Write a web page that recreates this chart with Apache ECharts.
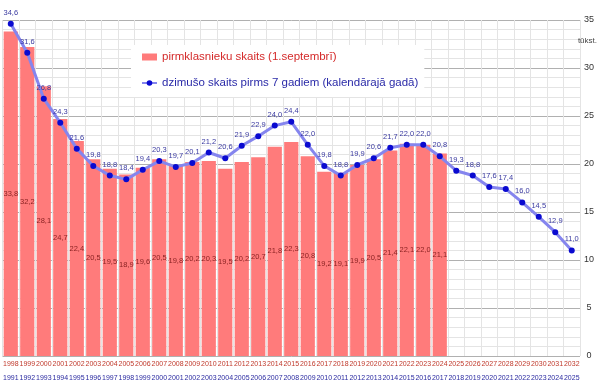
<!DOCTYPE html>
<html><head><meta charset="utf-8">
<script src="https://cdn.jsdelivr.net/npm/echarts@6/dist/echarts.min.js"></script>
<style>html,body{margin:0;padding:0;background:#fff}#c{width:600px;height:387px}</style>
</head><body><div id="c"></div>
<script>
const schoolYears = ['1998','1999','2000','2001','2002','2003','2004','2005','2006','2007','2008','2009','2010','2011','2012','2013','2014','2015','2016','2017','2018','2019','2020','2021','2022','2023','2024','2025','2026','2027','2028','2029','2030','2031','2032'];
const birthYears = ['1991','1992','1993','1994','1995','1996','1997','1998','1999','2000','2001','2002','2003','2004','2005','2006','2007','2008','2009','2010','2011','2012','2013','2014','2015','2016','2017','2018','2019','2020','2021','2022','2023','2024','2025'];
const firstGraders = [33.8,32.2,28.1,24.7,22.4,20.5,19.5,18.9,19.6,20.5,19.8,20.2,20.3,19.5,20.2,20.7,21.8,22.3,20.8,19.2,19.1,19.9,20.5,21.4,22.1,22.0,21.1];
const births = [34.6,31.6,26.8,24.3,21.6,19.8,18.8,18.4,19.4,20.3,19.7,20.1,21.2,20.6,21.9,22.9,24.0,24.4,22.0,19.8,18.8,19.9,20.6,21.7,22.0,22.0,20.8,19.3,18.8,17.6,17.4,16.0,14.5,12.9,11.0];
const yTicks = [0,5,10,15,20,25,30,35];
const name1 = 'pirmklasnieku skaits (1.septembrī)';
const name2 = 'dzimušo skaits pirms 7 gadiem (kalendārajā gadā)';

const fmt = v => v.toFixed(1).replace('.', ',');
const chart = echarts.init(document.getElementById('c'), null, {renderer:'canvas'});
chart.setOption({
  animation:false,
  textStyle:{fontFamily:'Liberation Sans, Arial, sans-serif'},
  grid:{left:2,right:20,top:20,bottom:31},
  title:{text:'tūkst.',right:3,top:37,padding:0,textStyle:{fontSize:8,fontWeight:'normal',color:'#444'}},
  legend:{
    orient:'vertical',left:131,top:45,backgroundColor:'#fff',
    padding:[6,6,8,10],itemGap:14,itemWidth:15,itemHeight:7,
    textStyle:{fontSize:11.5},
    data:[
      {name:name1,icon:'rect',textStyle:{color:'#d42a2a'}},
      {name:name2,textStyle:{color:'#2a2aa8'}}
    ]
  },
  xAxis:{
    type:'category',data:schoolYears,boundaryGap:true,
    axisLine:{show:false},axisTick:{show:false},
    splitLine:{show:true,interval:0,lineStyle:{color:'#e4e4e4',width:1}},
    axisLabel:{
      interval:0,margin:1,
      formatter:(v,i)=>'{a|'+v+'}\n{b|'+birthYears[i]+'}',
      rich:{
        a:{fontSize:7,color:'#c0392b',lineHeight:14},
        b:{fontSize:7,color:'#2a2aa0',lineHeight:14}
      }
    }
  },
  yAxis:{
    type:'value',position:'right',min:yTicks[0],max:yTicks[yTicks.length-1],interval:5,
    axisLine:{show:false},axisTick:{show:false},
    axisLabel:{fontSize:9,color:'#333',align:'center',margin:9},
    splitLine:{show:true,lineStyle:{color:'#b0b0b0',width:1}},
    minorTick:{show:false,splitNumber:5},
    minorSplitLine:{show:true,lineStyle:{color:'#e4e4e4',width:1}}
  },
  series:[
    {
      name:name1,type:'bar',data:firstGraders,barCategoryGap:'14%',
      itemStyle:{color:'#ff7b7b'},
      label:{show:true,position:'inside',fontSize:7.5,color:'#8b2323',formatter:p=>fmt(p.value)},
      z:2
    },
    {
      name:name2,type:'line',data:births,
      symbol:'circle',symbolSize:6,
      lineStyle:{color:'#8585ee',width:3},
      itemStyle:{color:'#0a0ad0'},
      label:{show:true,position:'top',distance:4,fontSize:7.5,color:'#3a3aa0',formatter:p=>fmt(p.value)},
      z:3
    }
  ]
});
</script></body></html>
